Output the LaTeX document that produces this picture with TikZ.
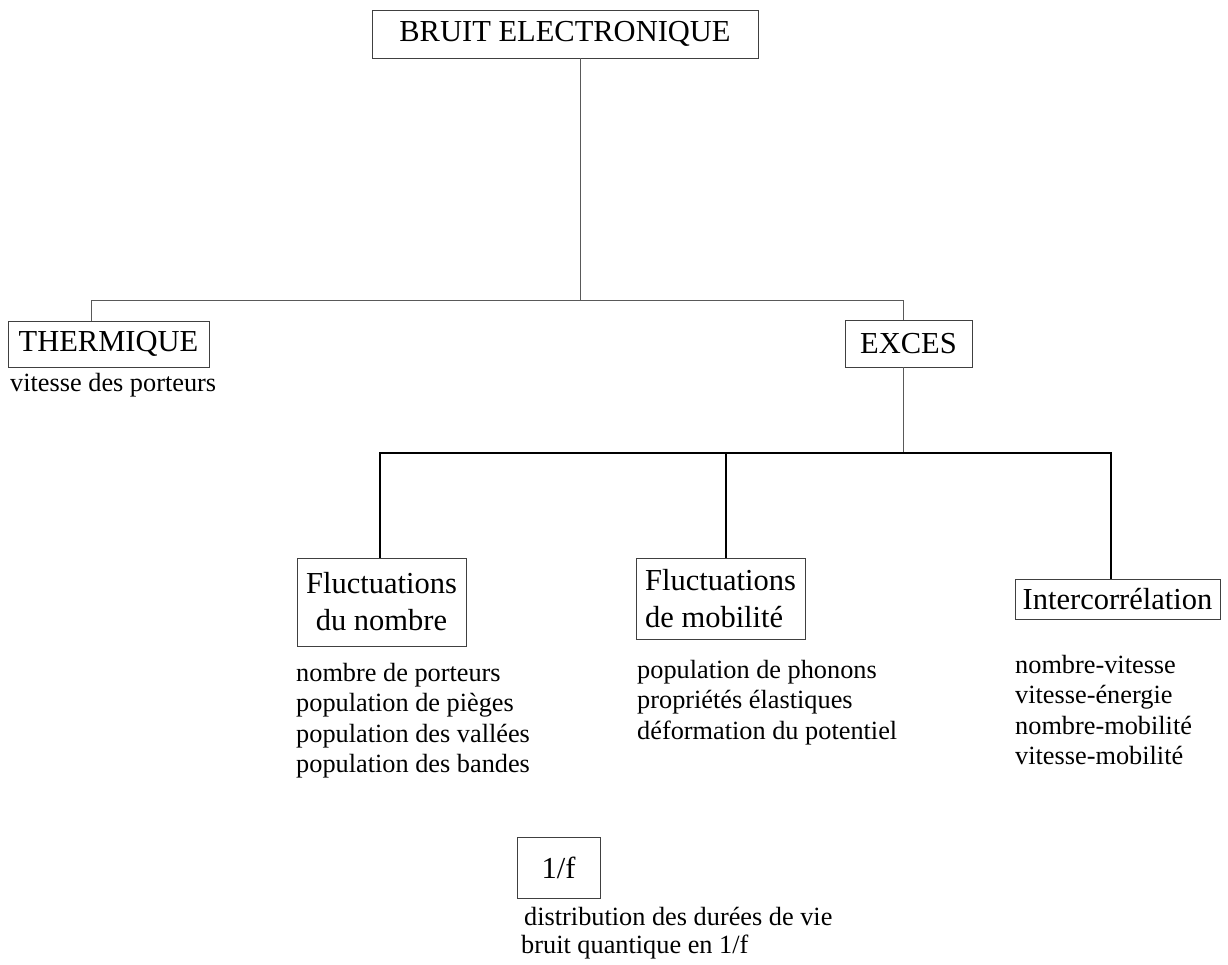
\documentclass[tikz,border=0pt]{standalone}
\usepackage{fontspec}
\setmainfont{Liberation Serif}
\begin{document}
\begin{tikzpicture}[x=1pt,y=-1pt,
  box/.style={draw=black!75,line width=0.9pt,inner sep=0pt,
    font=\fontsize{30.5}{37}\selectfont},
  listtxt/.style={anchor=base west,inner sep=0pt,
    font=\fontsize{26.3}{30.5}\selectfont},
  thinline/.style={draw=black!65,line width=0.9pt},
  thickline/.style={draw=black,line width=2pt}]
\useasboundingbox (0,0) rectangle (1228,965);
% boxes
\node[box,minimum width=386pt,minimum height=48pt] (top) at (565,34) {BRUIT ELECTRONIQUE};
\node[box,minimum width=201pt,minimum height=46pt] (therm) at (108.5,344) {THERMIQUE};
\node[box,minimum width=127pt,minimum height=47pt] (exces) at (908.5,343.5) {EXCES};
\node[box,minimum width=169pt,minimum height=88pt,align=center] (fn) at (381.5,602) {Fluctuations\\du nombre};
\node[box,minimum width=169pt,minimum height=81pt,align=left] (fm) at (720.5,599) {Fluctuations\\de mobilité};
\node[box,minimum width=205pt,minimum height=40pt] (ic) at (1117.5,599) {Intercorrélation};
\node[box,minimum width=83pt,minimum height=61pt] (of) at (558.5,867.5) {1/f};
% lists
\node[listtxt] (t1) at (10,391) {vitesse des porteurs};
\node[listtxt] (n1) at (296,681) {nombre de porteurs};
\node[listtxt] (n2) at (296,711.5) {population de pièges};
\node[listtxt] (n3) at (296,742) {population des vallées};
\node[listtxt] (n4) at (296,772.5) {population des bandes};
\node[listtxt] (m1) at (637,678) {population de phonons};
\node[listtxt] (m2) at (637,708.5) {propriétés élastiques};
\node[listtxt] (m3) at (637,739) {déformation du potentiel};
\node[listtxt] (r1) at (1015,673) {nombre-vitesse};
\node[listtxt] (r2) at (1015,703.5) {vitesse-énergie};
\node[listtxt] (r3) at (1015,734) {nombre-mobilité};
\node[listtxt] (r4) at (1015,764.5) {vitesse-mobilité};
\node[listtxt] (f1) at (524,925) {distribution des durées de vie};
\node[listtxt] (f2) at (521,953) {bruit quantique en 1/f};
% junctions
\coordinate (h1) at (580,300);
\coordinate (hl) at (91,300);
\coordinate (hr) at (903,300);
\coordinate (l1) at (903,453);
\coordinate (ll) at (380,453);
\coordinate (lm) at (726,453);
\coordinate (lr) at (1111,453);
% connectors
\draw[thinline] (top.south -| h1) -- (h1);
\draw[thinline] (therm.north -| hl) |- (hr) -- (exces.north -| hr);
\draw[thinline] (exces.south -| l1) -- (l1);
\draw[thickline] (fn.north -| ll) |- (lr) -- (ic.north -| lr);
\draw[thickline] (lm) -- (fm.north -| lm);
\end{tikzpicture}
\end{document}
